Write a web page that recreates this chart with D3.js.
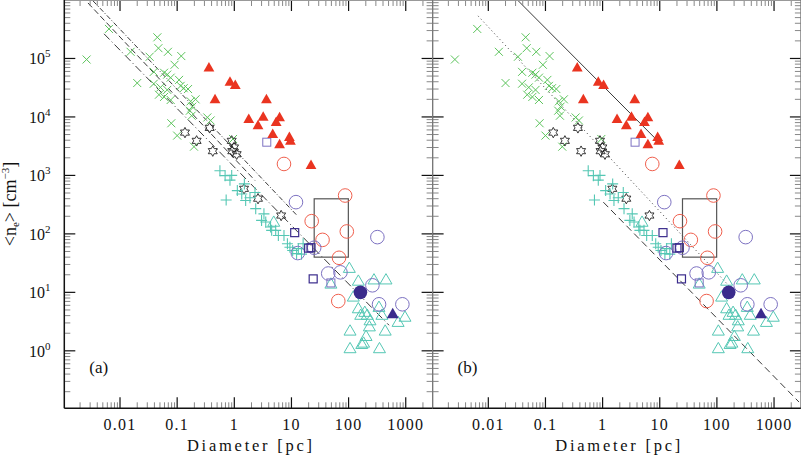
<!DOCTYPE html>
<html>
<head>
<meta charset="utf-8">
<script src="https://cdn.jsdelivr.net/npm/d3@7"></script>
<style>
  body { margin: 0; background: #fff; }
  svg { display: block; }
  text { font-family: "Liberation Serif", "DejaVu Serif", serif; fill: #111; }
</style>
</head>
<body>
<svg id="chart" width="801" height="455"></svg>
<script>
// ---- data: [diameter (pc), <n_e> (cm^-3)] ----
var greenCross = [
  [0.0026, 9.6e4], [0.0064, 3.2e5], [0.045, 2.3e5], [0.047, 1.5e5], [0.0153, 1.3e5],
  [0.069, 1.3e5], [0.118, 1.1e5], [0.033, 1.07e5], [0.020, 3.8e4], [0.090, 7.8e4],
  [0.039, 5.9e4], [0.059, 5.7e4], [0.067, 5.3e4], [0.077, 4.7e4], [0.108, 4.3e4],
  [0.039, 3.7e4], [0.051, 3.2e4], [0.067, 2.9e4], [0.13, 3.1e4], [0.155, 3.0e4],
  [0.115, 3.4e4], [0.048, 2.4e4], [0.059, 2.2e4], [0.077, 1.95e4], [0.172, 1.85e4],
  [0.21, 2.0e4], [0.184, 1.5e4], [0.167, 1.28e4], [0.179, 1.05e4], [0.337, 9.8e3],
  [0.385, 8.7e3], [0.079, 7.8e3], [0.10, 4.8e3], [0.197, 3.1e3], [0.95, 4.2e3]
];
var blackStar = [
  [0.137, 5.4e3], [0.219, 3.9e3], [0.37, 6.5e3], [0.42, 2.6e3], [0.90, 3.9e3],
  [0.99, 3.0e3], [0.92, 2.6e3], [1.1, 2.3e3], [1.48, 590], [2.6, 400], [6.6, 206]
];
var redTriangle = [
  [0.36, 7.0e4], [0.84, 4.0e4], [1.04, 3.5e4], [0.46, 2.0e4], [3.65, 2.0e4],
  [1.79, 9.2e3], [3.2, 1.0e4], [2.6, 7.2e3], [5.4, 8.2e3], [6.2, 9.8e3],
  [4.7, 5.1e3], [6.2, 3.4e3], [9.2, 4.5e3], [9.6, 3.9e3], [22, 1.5e3]
];
var tealPlus = [
  [0.56, 1.2e3], [0.69, 990], [0.84, 830], [0.9, 1.0e3], [0.72, 380], [1.13, 550],
  [1.35, 480], [1.5, 716], [1.58, 372], [1.88, 414], [2.3, 510], [2.37, 270],
  [3.3, 220], [3.55, 160], [3.0, 170], [4.3, 131], [4.5, 115], [5.3, 115],
  [5.9, 94], [7.4, 94], [8.5, 68], [9.4, 59], [13.2, 56], [12.3, 46], [16, 68],
  [10.5, 52], [15, 45]
];
var tealTriangle = [
  [103, 26], [49, 14], [148, 15.7], [278, 16.5], [451, 16.5], [121, 8.4],
  [148, 5.3], [192, 4.6], [212, 4.1], [163, 4.1], [237, 3.3], [231, 2.6],
  [340, 5.6], [383, 4.1], [735, 3.1], [970, 3.8], [106, 2.2], [437, 2.2],
  [202, 1.78], [170, 1.3], [183, 1.37], [106, 1.1], [347, 1.1], [4.9, 160]
];
var redCircle = [
  [7.4, 1.57e3], [87, 453], [22.6, 165], [93, 110], [35, 79], [68, 39], [66, 7.1]
];
var blueCircle = [
  [12, 349], [319, 88], [12.9, 47], [25, 58], [44, 21], [72, 22],
  [261, 13.2], [341, 6.25], [873, 6.25]
];
var darkSquare = [[11.4, 105], [20, 57], [22, 58], [24, 17]];
var lightSquare = [[3.7, 3.7e3], [49, 14.5]];
var filledCircle = [[161, 10]];
var filledTriangle = [[592, 4.3]];

// box drawn in both panels
var boxD = [25, 99];
var boxN = [40, 398];

// straight lines, each given by its two end points
var linesA = [
  [[0.00337, 9.66e5], [12.5, 207]],
  [[0.00275, 8.9e5], [2.3, 819]],
  [[0.00525, 2.64e5], [510, 2.74]]
];
var linesB = [
  [[0.0335, 9.66e5], [8.85, 4.05e3]],
  [[0.0066, 5.35e5], [191, 10.9]],
  [[1.03, 349], [2735, 0.133]]
];

var xTickValues = [0.01, 0.1, 1, 10, 100, 1000];
var xTickLabels = ["0.01", "0.1", "1", "10", "100", "1000"];
var yTickExponents = [0, 1, 2, 3, 4, 5];
var panelLabels = ["(a)", "(b)"];

// ---- layout ----
var svg = d3.select("#chart");
var top_y = 0, bottom_y = 408.3;
var panel_w = 368.3;
var left_a = 64.3;

var y = d3.scaleLog()
  .domain([Math.pow(10, -0.983), 1e6])
  .range([bottom_y, top_y]);

var color_green = "#5cc45c";
var color_teal = "#55c7b4";
var color_red = "#ea3420";
var color_redline = "#f0604e";
var color_lav = "#7d72c2";
var color_dark = "#3a2b8c";

function starPath(ro, ri) {
  var pts = [];
  for (var i = 0; i < 12; i++) {
    var r = i % 2 == 0 ? ro : ri;
    var a = -Math.PI / 2 + i * Math.PI / 6;
    pts.push([r * Math.cos(a), r * Math.sin(a)]);
  }
  return "M" + pts.map(function(p) { return p[0].toFixed(2) + "," + p[1].toFixed(2); }).join("L") + "Z";
}
function triPath(hw, up, down) {
  return "M0," + (-up) + "L" + hw + "," + down + "L" + (-hw) + "," + down + "Z";
}

function drawPanel(idx, lines, dashes) {
  var left = left_a + idx * panel_w;
  var right = left + panel_w;
  var x = d3.scaleLog()
    .domain([Math.pow(10, -2.975), Math.pow(10, 3.47)])
    .range([left, right]);

  var g = svg.append("g");
  var clipId = "clip" + idx;
  svg.append("clipPath").attr("id", clipId)
    .append("rect").attr("x", left).attr("y", top_y)
    .attr("width", panel_w).attr("height", bottom_y - top_y);
  var plot = g.append("g").attr("clip-path", "url(#" + clipId + ")");

  // ticks
  var xt = x.ticks();
  var yt = y.ticks();
  function isMajor(v) { return Math.abs(Math.log10(v) - Math.round(Math.log10(v))) < 1e-6; }

  g.selectAll(".xtb").data(xt).enter().append("line")
    .attr("x1", function(d) { return x(d); }).attr("x2", function(d) { return x(d); })
    .attr("y1", bottom_y).attr("y2", function(d) { return bottom_y - (isMajor(d) ? 11 : 6); })
    .attr("stroke", function(d) { return isMajor(d) ? "#111" : "#888"; })
    .attr("stroke-width", function(d) { return isMajor(d) ? 1.2 : 1; });
  g.selectAll(".xtt").data(xt).enter().append("line")
    .attr("x1", function(d) { return x(d); }).attr("x2", function(d) { return x(d); })
    .attr("y1", top_y).attr("y2", function(d) { return top_y + (isMajor(d) ? 11 : 6); })
    .attr("stroke", function(d) { return isMajor(d) ? "#111" : "#888"; })
    .attr("stroke-width", function(d) { return isMajor(d) ? 1.2 : 1; });
  g.selectAll(".ytl").data(yt).enter().append("line")
    .attr("y1", function(d) { return y(d); }).attr("y2", function(d) { return y(d); })
    .attr("x1", left).attr("x2", function(d) { return left + (isMajor(d) ? 11 : 6); })
    .attr("stroke", function(d) { return isMajor(d) ? "#111" : "#888"; })
    .attr("stroke-width", function(d) { return isMajor(d) ? 1.2 : 1; });
  g.selectAll(".ytr").data(yt).enter().append("line")
    .attr("y1", function(d) { return y(d); }).attr("y2", function(d) { return y(d); })
    .attr("x1", right).attr("x2", function(d) { return right - (isMajor(d) ? 11 : 6); })
    .attr("stroke", function(d) { return isMajor(d) ? "#111" : "#888"; })
    .attr("stroke-width", function(d) { return isMajor(d) ? 1.2 : 1; });

  // frame
  g.append("line").attr("x1", left).attr("x2", right).attr("y1", top_y + 0.5).attr("y2", top_y + 0.5)
    .attr("stroke", "#999").attr("stroke-width", 1.2);
  g.append("line").attr("x1", right).attr("x2", right).attr("y1", top_y).attr("y2", bottom_y)
    .attr("stroke", "#777").attr("stroke-width", 1.2);
  g.append("line").attr("x1", left).attr("x2", left).attr("y1", top_y).attr("y2", bottom_y)
    .attr("stroke", idx == 0 ? "#111" : "#777").attr("stroke-width", idx == 0 ? 1.5 : 1.2);
  g.append("line").attr("x1", left).attr("x2", right).attr("y1", bottom_y).attr("y2", bottom_y)
    .attr("stroke", "#111").attr("stroke-width", 1.5);

  // x tick labels
  g.selectAll(".xl").data(xTickValues).enter().append("text")
    .attr("x", function(d) { return x(d); }).attr("y", 430)
    .attr("text-anchor", "middle").attr("font-size", 16).attr("letter-spacing", 1.2)
    .text(function(d, i) { return xTickLabels[i]; });
  g.append("text").attr("x", (left + right) / 2 + 1).attr("y", 450.5)
    .attr("text-anchor", "middle").attr("font-size", 16.5)
    .attr("textLength", 125).attr("lengthAdjust", "spacing")
    .text("Diameter [pc]");

  if (idx == 0) {
    var yl = g.selectAll(".yl").data(yTickExponents).enter().append("text")
      .attr("x", 29).attr("y", function(d) { return y(Math.pow(10, d)) + 6; })
      .attr("font-size", 16);
    yl.append("tspan").text("10");
    yl.append("tspan").attr("font-size", 11).attr("dy", -7).text(function(d) { return d; });

    var yt2 = g.append("text")
      .attr("transform", "translate(16,204) rotate(-90)")
      .attr("text-anchor", "middle").attr("font-size", 18);
    yt2.append("tspan").text("<n");
    yt2.append("tspan").attr("font-size", 11).attr("dy", 3).text("e");
    yt2.append("tspan").attr("dy", -3).text("> [cm");
    yt2.append("tspan").attr("font-size", 11).attr("dy", -7).text("\u22123");
    yt2.append("tspan").attr("dy", 7).text("]");
  }

  g.append("text").attr("x", left + 25).attr("y", 373)
    .attr("font-size", 17).text(panelLabels[idx]);

  // lines
  plot.selectAll(".fit").data(lines).enter().append("path")
    .attr("d", function(d) { return d3.line().x(function(p) { return x(p[0]); }).y(function(p) { return y(p[1]); })(d); })
    .attr("fill", "none").attr("stroke", "#222").attr("stroke-width", 0.9)
    .attr("stroke-dasharray", function(d, i) { return dashes[i]; });

  // box
  plot.append("rect")
    .attr("x", x(boxD[0])).attr("y", y(boxN[1]))
    .attr("width", x(boxD[1]) - x(boxD[0])).attr("height", y(boxN[0]) - y(boxN[1]))
    .attr("fill", "none").attr("stroke", "#555").attr("stroke-width", 1.2);

  function tr(d) { return "translate(" + x(d[0]) + "," + y(d[1]) + ")"; }

  // green x
  plot.selectAll(".gx").data(greenCross).enter().append("path")
    .attr("transform", tr).attr("d", "M-4,-4L4,4M-4,4L4,-4")
    .attr("stroke", color_green).attr("stroke-width", 1).attr("fill", "none");
  // stars
  plot.selectAll(".st").data(blackStar).enter().append("path")
    .attr("transform", tr).attr("d", starPath(5.2, 2.9))
    .attr("stroke", "#222").attr("stroke-width", 0.9).attr("fill", "none");
  // teal plus
  plot.selectAll(".tp").data(tealPlus).enter().append("path")
    .attr("transform", tr).attr("d", "M-5.5,0L5.5,0M0,-5.5L0,5.5")
    .attr("stroke", color_teal).attr("stroke-width", 1.1).attr("fill", "none");
  // teal open triangles
  plot.selectAll(".tt").data(tealTriangle).enter().append("path")
    .attr("transform", tr).attr("d", triPath(6, 6, 4.3))
    .attr("stroke", color_teal).attr("stroke-width", 1).attr("fill", "none");
  // red open circles
  plot.selectAll(".rc").data(redCircle).enter().append("circle")
    .attr("cx", function(d) { return x(d[0]); }).attr("cy", function(d) { return y(d[1]); })
    .attr("r", 6.8).attr("stroke", color_redline).attr("stroke-width", 1).attr("fill", "none");
  // lavender open circles
  plot.selectAll(".bc").data(blueCircle).enter().append("circle")
    .attr("cx", function(d) { return x(d[0]); }).attr("cy", function(d) { return y(d[1]); })
    .attr("r", 6.8).attr("stroke", color_lav).attr("stroke-width", 1).attr("fill", "none");
  // squares
  plot.selectAll(".ls").data(lightSquare).enter().append("rect")
    .attr("x", function(d) { return x(d[0]) - 4; }).attr("y", function(d) { return y(d[1]) - 4; })
    .attr("width", 8).attr("height", 8)
    .attr("stroke", color_lav).attr("stroke-width", 1).attr("fill", "none");
  plot.selectAll(".ds").data(darkSquare).enter().append("rect")
    .attr("x", function(d) { return x(d[0]) - 4; }).attr("y", function(d) { return y(d[1]) - 4; })
    .attr("width", 8).attr("height", 8)
    .attr("stroke", color_dark).attr("stroke-width", 1.2).attr("fill", "none");
  // filled blue circle & triangle
  plot.selectAll(".fc").data(filledCircle).enter().append("circle")
    .attr("cx", function(d) { return x(d[0]); }).attr("cy", function(d) { return y(d[1]); })
    .attr("r", 6.8).attr("fill", color_dark);
  plot.selectAll(".ft").data(filledTriangle).enter().append("path")
    .attr("transform", tr).attr("d", triPath(6, 6, 4.5)).attr("fill", color_dark);
  // red filled triangles
  plot.selectAll(".rt").data(redTriangle).enter().append("path")
    .attr("transform", tr).attr("d", triPath(5.4, 5.6, 3.9)).attr("fill", color_red);
}

drawPanel(0, linesA, ["5,2,1,2", "6,3", "8,3,1,3"]);
drawPanel(1, linesB, [null, "1,3", "7,4"]);
</script>
</body>
</html>
